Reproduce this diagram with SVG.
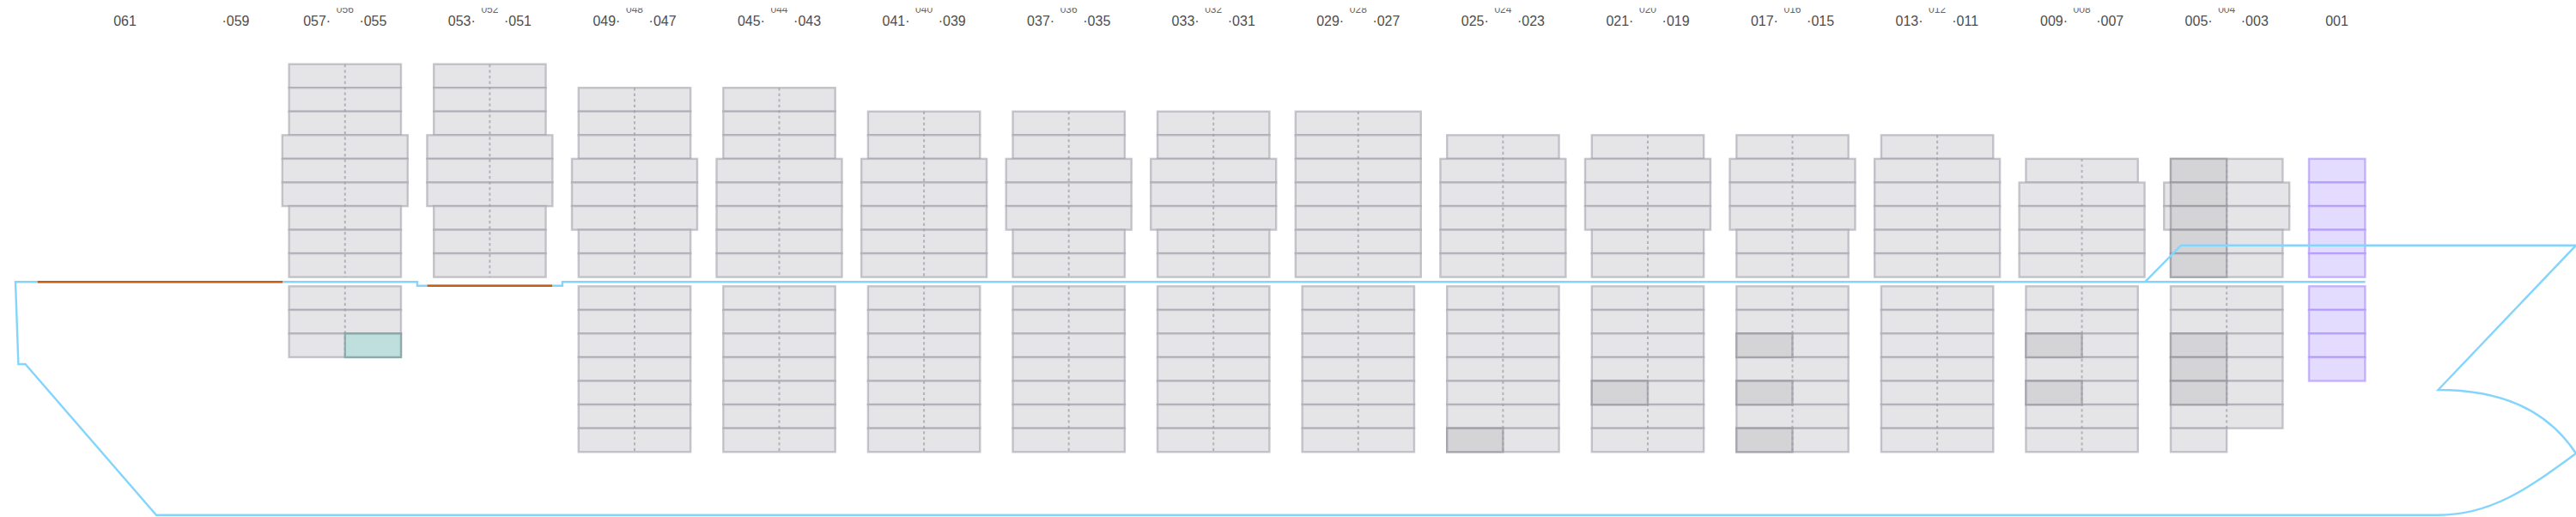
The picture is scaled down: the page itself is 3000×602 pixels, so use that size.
<svg xmlns="http://www.w3.org/2000/svg" width="3000" height="602" viewBox="0 0 3000 602">
<style>
text{font-family:"Liberation Sans",Arial,sans-serif;fill:#4d4d4d;font-size:16px;text-anchor:middle}
.s{font-size:12px;fill:#666}
.c{fill:#e5e5e8;stroke:#9a9aa5;stroke-opacity:.55;stroke-width:2.4}
.d{fill:#d4d4d6;stroke:#8c8c96;stroke-opacity:.6;stroke-width:2.4}
.t{fill:#bfdfdc;stroke:#77989b;stroke-opacity:.7;stroke-width:2.4}
.p{fill:#e4dcfe;stroke:#a688fa;stroke-opacity:.6;stroke-width:2.4}
.a{stroke:#a0a0a9;stroke-opacity:.75;stroke-width:2;stroke-dasharray:3.2 3.3;fill:none}
.h{fill:none;stroke:#84d5fd;stroke-width:2.4;stroke-linejoin:miter}
.o{fill:none;stroke:#c2601a;stroke-width:2.6}
</style>
<defs>
<clipPath id="top"><rect x="0" y="9.3" width="3000" height="60"/></clipPath>
<rect id="n" x="-65.2" width="130.4" height="27.56" class="c"/>
<rect id="w" x="-73" width="146" height="27.56" class="c"/>
<rect id="l" x="-65.2" width="65.2" height="27.56" class="d"/>
</defs>
<g id="labels">
<text x="145.5" y="30">061</text>
<text x="274.5" y="30">·059</text>
<g id="labels-056"><text x="369.2" y="30">057·</text><text class="s" x="401.8" y="15.4" clip-path="url(#top)">056</text><text x="434.4" y="30">·055</text></g>
<g id="labels-052"><text x="537.8" y="30">053·</text><text class="s" x="570.4" y="15.4" clip-path="url(#top)">052</text><text x="603" y="30">·051</text></g>
<g id="labels-048"><text x="706.4" y="30">049·</text><text class="s" x="739" y="15.4" clip-path="url(#top)">048</text><text x="771.6" y="30">·047</text></g>
<g id="labels-044"><text x="874.9" y="30">045·</text><text class="s" x="907.5" y="15.4" clip-path="url(#top)">044</text><text x="940.1" y="30">·043</text></g>
<g id="labels-040"><text x="1043.5" y="30">041·</text><text class="s" x="1076.1" y="15.4" clip-path="url(#top)">040</text><text x="1108.7" y="30">·039</text></g>
<g id="labels-036"><text x="1212.1" y="30">037·</text><text class="s" x="1244.7" y="15.4" clip-path="url(#top)">036</text><text x="1277.3" y="30">·035</text></g>
<g id="labels-032"><text x="1380.6" y="30">033·</text><text class="s" x="1413.2" y="15.4" clip-path="url(#top)">032</text><text x="1445.8" y="30">·031</text></g>
<g id="labels-028"><text x="1549.2" y="30">029·</text><text class="s" x="1581.8" y="15.4" clip-path="url(#top)">028</text><text x="1614.4" y="30">·027</text></g>
<g id="labels-024"><text x="1717.8" y="30">025·</text><text class="s" x="1750.4" y="15.4" clip-path="url(#top)">024</text><text x="1783" y="30">·023</text></g>
<g id="labels-020"><text x="1886.4" y="30">021·</text><text class="s" x="1919" y="15.4" clip-path="url(#top)">020</text><text x="1951.6" y="30">·019</text></g>
<g id="labels-016"><text x="2054.9" y="30">017·</text><text class="s" x="2087.5" y="15.4" clip-path="url(#top)">016</text><text x="2120.1" y="30">·015</text></g>
<g id="labels-012"><text x="2223.5" y="30">013·</text><text class="s" x="2256.1" y="15.4" clip-path="url(#top)">012</text><text x="2288.7" y="30">·011</text></g>
<g id="labels-008"><text x="2392" y="30">009·</text><text class="s" x="2424.6" y="15.4" clip-path="url(#top)">008</text><text x="2457.2" y="30">·007</text></g>
<g id="labels-004"><text x="2560.6" y="30">005·</text><text class="s" x="2593.2" y="15.4" clip-path="url(#top)">004</text><text x="2625.8" y="30">·003</text></g>
<text x="2721.5" y="30">001</text>
</g>
<g id="bay-056" transform="translate(401.8,0)">
<use href="#n" y="74.7"/><use href="#n" y="102.2"/><use href="#n" y="129.8"/><use href="#w" y="157.3"/><use href="#w" y="184.9"/><use href="#w" y="212.5"/><use href="#n" y="240"/><use href="#n" y="267.6"/><use href="#n" y="295.1"/>
<path class="a" d="M0 75V322.7"/>
<use href="#n" y="333.3"/><use href="#n" y="360.9"/><use href="#n" y="388.4"/>
<path class="a" d="M0 333.3V416"/>
<rect class="t" x="0" y="388.4" width="65.2" height="27.56"/>
</g>
<g id="bay-052" transform="translate(570.4,0)">
<use href="#n" y="74.7"/><use href="#n" y="102.2"/><use href="#n" y="129.8"/><use href="#w" y="157.3"/><use href="#w" y="184.9"/><use href="#w" y="212.5"/><use href="#n" y="240"/><use href="#n" y="267.6"/><use href="#n" y="295.1"/>
<path class="a" d="M0 75V322.7"/>
</g>
<g id="bay-048" transform="translate(739,0)">
<use href="#n" y="102.2"/><use href="#n" y="129.8"/><use href="#n" y="157.3"/><use href="#w" y="184.9"/><use href="#w" y="212.5"/><use href="#w" y="240"/><use href="#n" y="267.6"/><use href="#n" y="295.1"/>
<path class="a" d="M0 102.2V322.7"/>
<use href="#n" y="333.3"/><use href="#n" y="360.9"/><use href="#n" y="388.4"/><use href="#n" y="416"/><use href="#n" y="443.6"/><use href="#n" y="471.1"/><use href="#n" y="498.7"/>
<path class="a" d="M0 333.3V526.3"/>
</g>
<g id="bay-044" transform="translate(907.5,0)">
<use href="#n" y="102.2"/><use href="#n" y="129.8"/><use href="#n" y="157.3"/><use href="#w" y="184.9"/><use href="#w" y="212.5"/><use href="#w" y="240"/><use href="#w" y="267.6"/><use href="#w" y="295.1"/>
<path class="a" d="M0 102.2V322.7"/>
<use href="#n" y="333.3"/><use href="#n" y="360.9"/><use href="#n" y="388.4"/><use href="#n" y="416"/><use href="#n" y="443.6"/><use href="#n" y="471.1"/><use href="#n" y="498.7"/>
<path class="a" d="M0 333.3V526.3"/>
</g>
<g id="bay-040" transform="translate(1076.1,0)">
<use href="#n" y="129.8"/><use href="#n" y="157.3"/><use href="#w" y="184.9"/><use href="#w" y="212.5"/><use href="#w" y="240"/><use href="#w" y="267.6"/><use href="#w" y="295.1"/>
<path class="a" d="M0 129.8V322.7"/>
<use href="#n" y="333.3"/><use href="#n" y="360.9"/><use href="#n" y="388.4"/><use href="#n" y="416"/><use href="#n" y="443.6"/><use href="#n" y="471.1"/><use href="#n" y="498.7"/>
<path class="a" d="M0 333.3V526.3"/>
</g>
<g id="bay-036" transform="translate(1244.7,0)">
<use href="#n" y="129.8"/><use href="#n" y="157.3"/><use href="#w" y="184.9"/><use href="#w" y="212.5"/><use href="#w" y="240"/><use href="#n" y="267.6"/><use href="#n" y="295.1"/>
<path class="a" d="M0 129.8V322.7"/>
<use href="#n" y="333.3"/><use href="#n" y="360.9"/><use href="#n" y="388.4"/><use href="#n" y="416"/><use href="#n" y="443.6"/><use href="#n" y="471.1"/><use href="#n" y="498.7"/>
<path class="a" d="M0 333.3V526.3"/>
</g>
<g id="bay-032" transform="translate(1413.2,0)">
<use href="#n" y="129.8"/><use href="#n" y="157.3"/><use href="#w" y="184.9"/><use href="#w" y="212.5"/><use href="#w" y="240"/><use href="#n" y="267.6"/><use href="#n" y="295.1"/>
<path class="a" d="M0 129.8V322.7"/>
<use href="#n" y="333.3"/><use href="#n" y="360.9"/><use href="#n" y="388.4"/><use href="#n" y="416"/><use href="#n" y="443.6"/><use href="#n" y="471.1"/><use href="#n" y="498.7"/>
<path class="a" d="M0 333.3V526.3"/>
</g>
<g id="bay-028" transform="translate(1581.8,0)">
<use href="#w" y="129.8"/><use href="#w" y="157.3"/><use href="#w" y="184.9"/><use href="#w" y="212.5"/><use href="#w" y="240"/><use href="#w" y="267.6"/><use href="#w" y="295.1"/>
<path class="a" d="M0 129.8V322.7"/>
<use href="#n" y="333.3"/><use href="#n" y="360.9"/><use href="#n" y="388.4"/><use href="#n" y="416"/><use href="#n" y="443.6"/><use href="#n" y="471.1"/><use href="#n" y="498.7"/>
<path class="a" d="M0 333.3V526.3"/>
</g>
<g id="bay-024" transform="translate(1750.4,0)">
<use href="#n" y="157.3"/><use href="#w" y="184.9"/><use href="#w" y="212.5"/><use href="#w" y="240"/><use href="#w" y="267.6"/><use href="#w" y="295.1"/>
<path class="a" d="M0 157.3V322.7"/>
<use href="#n" y="333.3"/><use href="#n" y="360.9"/><use href="#n" y="388.4"/><use href="#n" y="416"/><use href="#n" y="443.6"/><use href="#n" y="471.1"/><use href="#n" y="498.7"/>
<use href="#l" y="498.7"/>
<path class="a" d="M0 333.3V526.3"/>
</g>
<g id="bay-020" transform="translate(1919,0)">
<use href="#n" y="157.3"/><use href="#w" y="184.9"/><use href="#w" y="212.5"/><use href="#w" y="240"/><use href="#n" y="267.6"/><use href="#n" y="295.1"/>
<path class="a" d="M0 157.3V322.7"/>
<use href="#n" y="333.3"/><use href="#n" y="360.9"/><use href="#n" y="388.4"/><use href="#n" y="416"/><use href="#n" y="443.6"/><use href="#n" y="471.1"/><use href="#n" y="498.7"/>
<use href="#l" y="443.6"/>
<path class="a" d="M0 333.3V526.3"/>
</g>
<g id="bay-016" transform="translate(2087.5,0)">
<use href="#n" y="157.3"/><use href="#w" y="184.9"/><use href="#w" y="212.5"/><use href="#w" y="240"/><use href="#n" y="267.6"/><use href="#n" y="295.1"/>
<path class="a" d="M0 157.3V322.7"/>
<use href="#n" y="333.3"/><use href="#n" y="360.9"/><use href="#n" y="388.4"/><use href="#n" y="416"/><use href="#n" y="443.6"/><use href="#n" y="471.1"/><use href="#n" y="498.7"/>
<use href="#l" y="388.4"/><use href="#l" y="443.6"/><use href="#l" y="498.7"/>
<path class="a" d="M0 333.3V526.3"/>
</g>
<g id="bay-012" transform="translate(2256.1,0)">
<use href="#n" y="157.3"/><use href="#w" y="184.9"/><use href="#w" y="212.5"/><use href="#w" y="240"/><use href="#w" y="267.6"/><use href="#w" y="295.1"/>
<path class="a" d="M0 157.3V322.7"/>
<use href="#n" y="333.3"/><use href="#n" y="360.9"/><use href="#n" y="388.4"/><use href="#n" y="416"/><use href="#n" y="443.6"/><use href="#n" y="471.1"/><use href="#n" y="498.7"/>
<path class="a" d="M0 333.3V526.3"/>
</g>
<g id="bay-008" transform="translate(2424.6,0)">
<use href="#n" y="184.9"/><use href="#w" y="212.5"/><use href="#w" y="240"/><use href="#w" y="267.6"/><use href="#w" y="295.1"/>
<path class="a" d="M0 184.9V322.7"/>
<use href="#n" y="333.3"/><use href="#n" y="360.9"/><use href="#n" y="388.4"/><use href="#n" y="416"/><use href="#n" y="443.6"/><use href="#n" y="471.1"/><use href="#n" y="498.7"/>
<use href="#l" y="388.4"/><use href="#l" y="443.6"/>
<path class="a" d="M0 333.3V526.3"/>
</g>
<g id="bay-004" transform="translate(2593.2,0)">
<use href="#n" y="184.9"/><use href="#w" y="212.5"/><use href="#w" y="240"/><use href="#n" y="267.6"/><use href="#n" y="295.1"/>
<use href="#l" y="184.9"/><use href="#l" y="212.5"/><use href="#l" y="240"/><use href="#l" y="267.6"/><use href="#l" y="295.1"/>
<path class="a" d="M0 184.9V322.7"/>
<use href="#n" y="333.3"/><use href="#n" y="360.9"/><use href="#n" y="388.4"/><use href="#n" y="416"/><use href="#n" y="443.6"/><use href="#n" y="471.1"/>
<rect class="c" x="-65.2" y="498.7" width="65.2" height="27.56"/>
<use href="#l" y="388.4"/><use href="#l" y="416"/><use href="#l" y="443.6"/>
<path class="a" d="M0 333.3V498.7"/>
</g>
<g id="bay-001" transform="translate(2721.7,0)">
<rect class="p" x="-32.7" y="184.9" width="65.4" height="27.56"/><rect class="p" x="-32.7" y="212.5" width="65.4" height="27.56"/><rect class="p" x="-32.7" y="240" width="65.4" height="27.56"/><rect class="p" x="-32.7" y="267.6" width="65.4" height="27.56"/><rect class="p" x="-32.7" y="295.1" width="65.4" height="27.56"/>
<rect class="p" x="-32.7" y="333.3" width="65.4" height="27.56"/><rect class="p" x="-32.7" y="360.9" width="65.4" height="27.56"/><rect class="p" x="-32.7" y="388.4" width="65.4" height="27.56"/><rect class="p" x="-32.7" y="416" width="65.4" height="27.56"/>
</g>
<g id="hull">
<path class="h" d="M2754.6 328.3H655V332.7H486V328.3H18L21.4 424H29.5L182 599.7H2840C2905 599.7 2950 564 3000 528C2965 475 2910 454 2839.5 454L3000 285.7H2540L2498 328.3"/>
<path class="o" d="M43.8 328.3H329M497.7 332.7H643"/>
</g>
</svg>
